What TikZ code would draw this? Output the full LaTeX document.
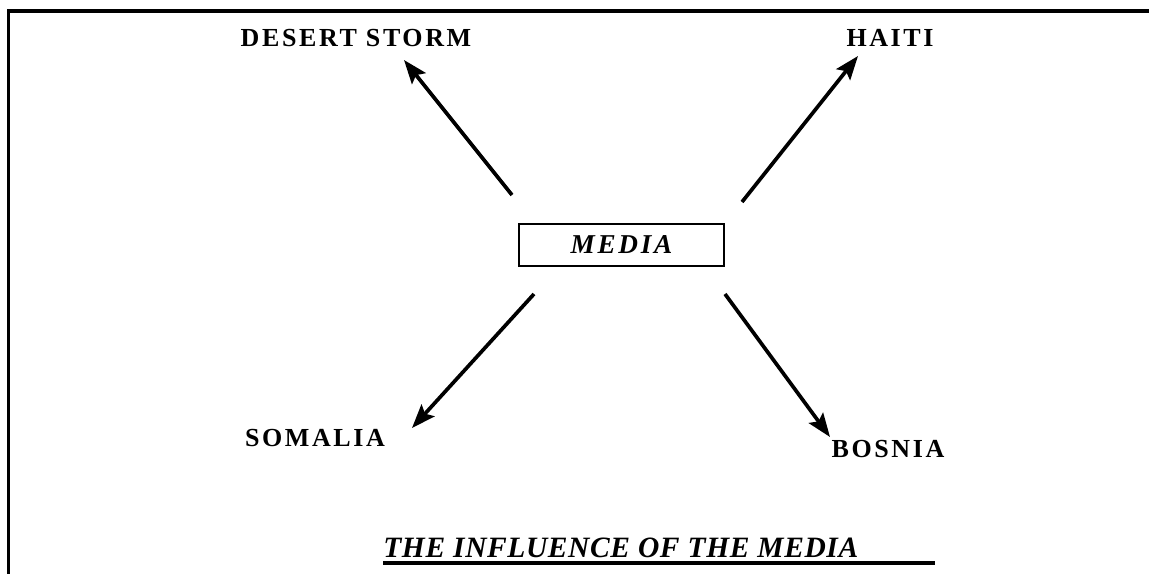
\documentclass[tikz,border=0pt]{standalone}
\usepackage{fontspec}
\setmainfont{Liberation Serif}
\newfontfamily\spacedfont[LetterSpace=10]{Liberation Serif}
\newfontfamily\titlefont[LetterSpace=2]{Liberation Serif}
\usetikzlibrary{arrows.meta,positioning}

\begin{document}
\begin{tikzpicture}[x=0.02cm, y=-0.02cm,
    place/.style={anchor=base, inner sep=0pt, font=\spacedfont\bfseries\fontsize{14.8}{17}\selectfont},
    arr/.style={line width=2.1pt, -{Stealth[length=13.5pt, width=10pt, inset=2.5pt]}}]
  \useasboundingbox (0,0) rectangle (1149,574);

  % Frame (top and left edges only)
  \draw[line width=1.9pt] (8.5,574) -- (8.5,11) -- (1149,11);

  % Centre box
  \node[draw, line width=0.7pt, minimum width=205*0.569pt, minimum height=42*0.569pt, inner sep=0pt,
        font=\spacedfont\bfseries\itshape\fontsize{15.5}{17}\selectfont] (media) at (621.5,245) {MEDIA};

  % Places
  \node[place] (desert) at (356,47) {DESERT STORM};
  \node[place] (haiti) at (890,47) {HAITI};
  \node[place] (somalia) at (315,446) {SOMALIA};
  \node[place] (bosnia) at (888,457) {BOSNIA};

  % Arrow ends
  \coordinate (ds-tail) at (512,195);
  \coordinate (ds-tip) at (404,60);
  \coordinate (ha-tail) at (742,202);
  \coordinate (ha-tip) at (858,56);
  \coordinate (so-tail) at (534,294);
  \coordinate (so-tip) at (412,428);
  \coordinate (bo-tail) at (725,294);
  \coordinate (bo-tip) at (830,437);

  \draw[arr] (ds-tail) -- (ds-tip);
  \draw[arr] (ha-tail) -- (ha-tip);
  \draw[arr] (so-tail) -- (so-tip);
  \draw[arr] (bo-tail) -- (bo-tip);

  % Title
  \node[anchor=base west, inner sep=0pt, font=\titlefont\bfseries\itshape\fontsize{16.8}{19}\selectfont]
    (title) at (383,557) {THE INFLUENCE OF THE MEDIA};
  \coordinate (rule-end) at (935,563);
  \draw[line width=2pt] (title.base west |- rule-end) -- (rule-end);
\end{tikzpicture}
\end{document}
